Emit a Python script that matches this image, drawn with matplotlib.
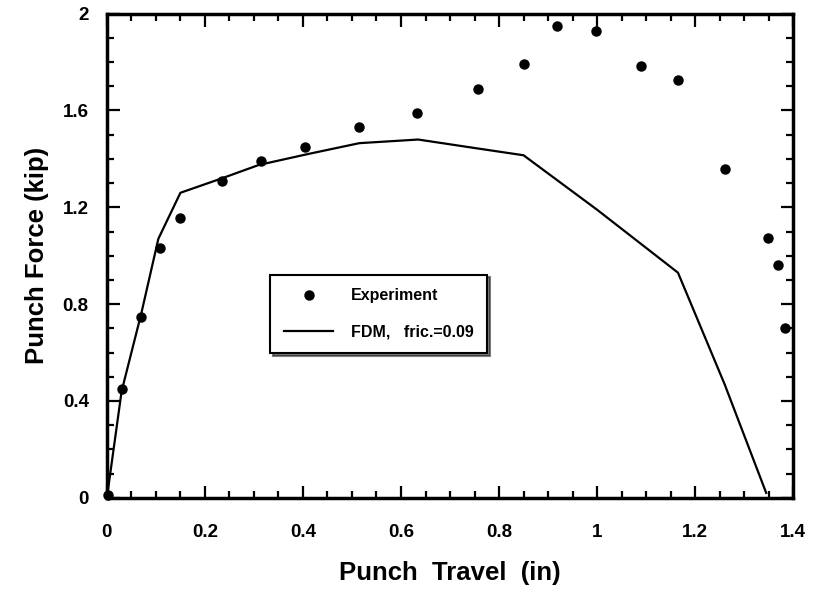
import matplotlib
matplotlib.use("Agg")
import matplotlib.pyplot as plt
from matplotlib.ticker import MultipleLocator, FuncFormatter

plt.rcParams['font.family'] = ['Liberation Sans', 'DejaVu Sans']
plt.rcParams['font.weight'] = 'bold'

# Measured punch force during the test
exp_travel = [0.003, 0.031, 0.069, 0.108, 0.149, 0.235, 0.315, 0.405, 0.515,
              0.632, 0.757, 0.850, 0.918, 0.998, 1.090, 1.165, 1.260, 1.348,
              1.370, 1.383]
exp_force = [0.01, 0.45, 0.745, 1.03, 1.155, 1.31, 1.39, 1.45, 1.53,
             1.59, 1.69, 1.79, 1.95, 1.93, 1.785, 1.725, 1.36, 1.075,
             0.96, 0.70]

# Finite-difference prediction, friction coefficient 0.09
fdm_travel = [0.0, 0.03, 0.07, 0.105, 0.15, 0.235, 0.31, 0.41, 0.515, 0.635,
              0.75, 0.85, 1.0, 1.165, 1.26, 1.345]
fdm_force = [0.0, 0.44, 0.76, 1.07, 1.26, 1.32, 1.375, 1.42, 1.465, 1.48,
             1.445, 1.415, 1.19, 0.93, 0.47, 0.02]

fig = plt.figure(figsize=(8.16, 5.94), dpi=100)
ax = fig.add_axes([0.131, 0.162, 0.841, 0.815])

ax.plot(exp_travel, exp_force, linestyle='none', marker='o', markersize=6.5,
        color='black', label='Experiment', clip_on=False, zorder=3)
ax.plot(fdm_travel, fdm_force, color='black', linewidth=1.6,
        label='FDM,   fric.=0.09', zorder=2)

ax.set_xlim(0, 1.4)
ax.set_ylim(0, 2)
ax.xaxis.set_major_locator(MultipleLocator(0.2))
ax.xaxis.set_minor_locator(MultipleLocator(0.05))
ax.yaxis.set_major_locator(MultipleLocator(0.4))
ax.yaxis.set_minor_locator(MultipleLocator(0.1))


def fmt(v, _pos):
    s = f"{v:.1f}"
    if s.endswith(".0"):
        s = s[:-2]
    return s


ax.xaxis.set_major_formatter(FuncFormatter(fmt))
ax.yaxis.set_major_formatter(FuncFormatter(fmt))

ax.tick_params(which='both', direction='in', top=True, right=True,
               width=1.6, labelsize=13.5)
ax.tick_params(which='major', length=9)
ax.tick_params(which='minor', length=5)
ax.tick_params(axis='x', which='major', pad=19)
ax.tick_params(axis='y', which='major', pad=13)

for sp in ax.spines.values():
    sp.set_linewidth(2.5)

ax.set_xlabel('Punch  Travel  (in)', fontsize=18.5, fontweight='bold', labelpad=14)
ax.set_ylabel('Punch Force (kip)', fontsize=18.5, fontweight='bold', labelpad=10)

leg = ax.legend(loc='upper left', bbox_to_anchor=(0.238, 0.461),
                frameon=True, fancybox=False, shadow={'color': 'black'},
                edgecolor='black', fontsize=11.5, handlelength=3.1,
                labelspacing=1.35, borderpad=0.85, handletextpad=1.1,
                borderaxespad=0, markerscale=1.0, numpoints=1)
leg.get_frame().set_linewidth(1.5)
leg.get_frame().set_alpha(1)

fig.savefig('out.png', dpi=100)
